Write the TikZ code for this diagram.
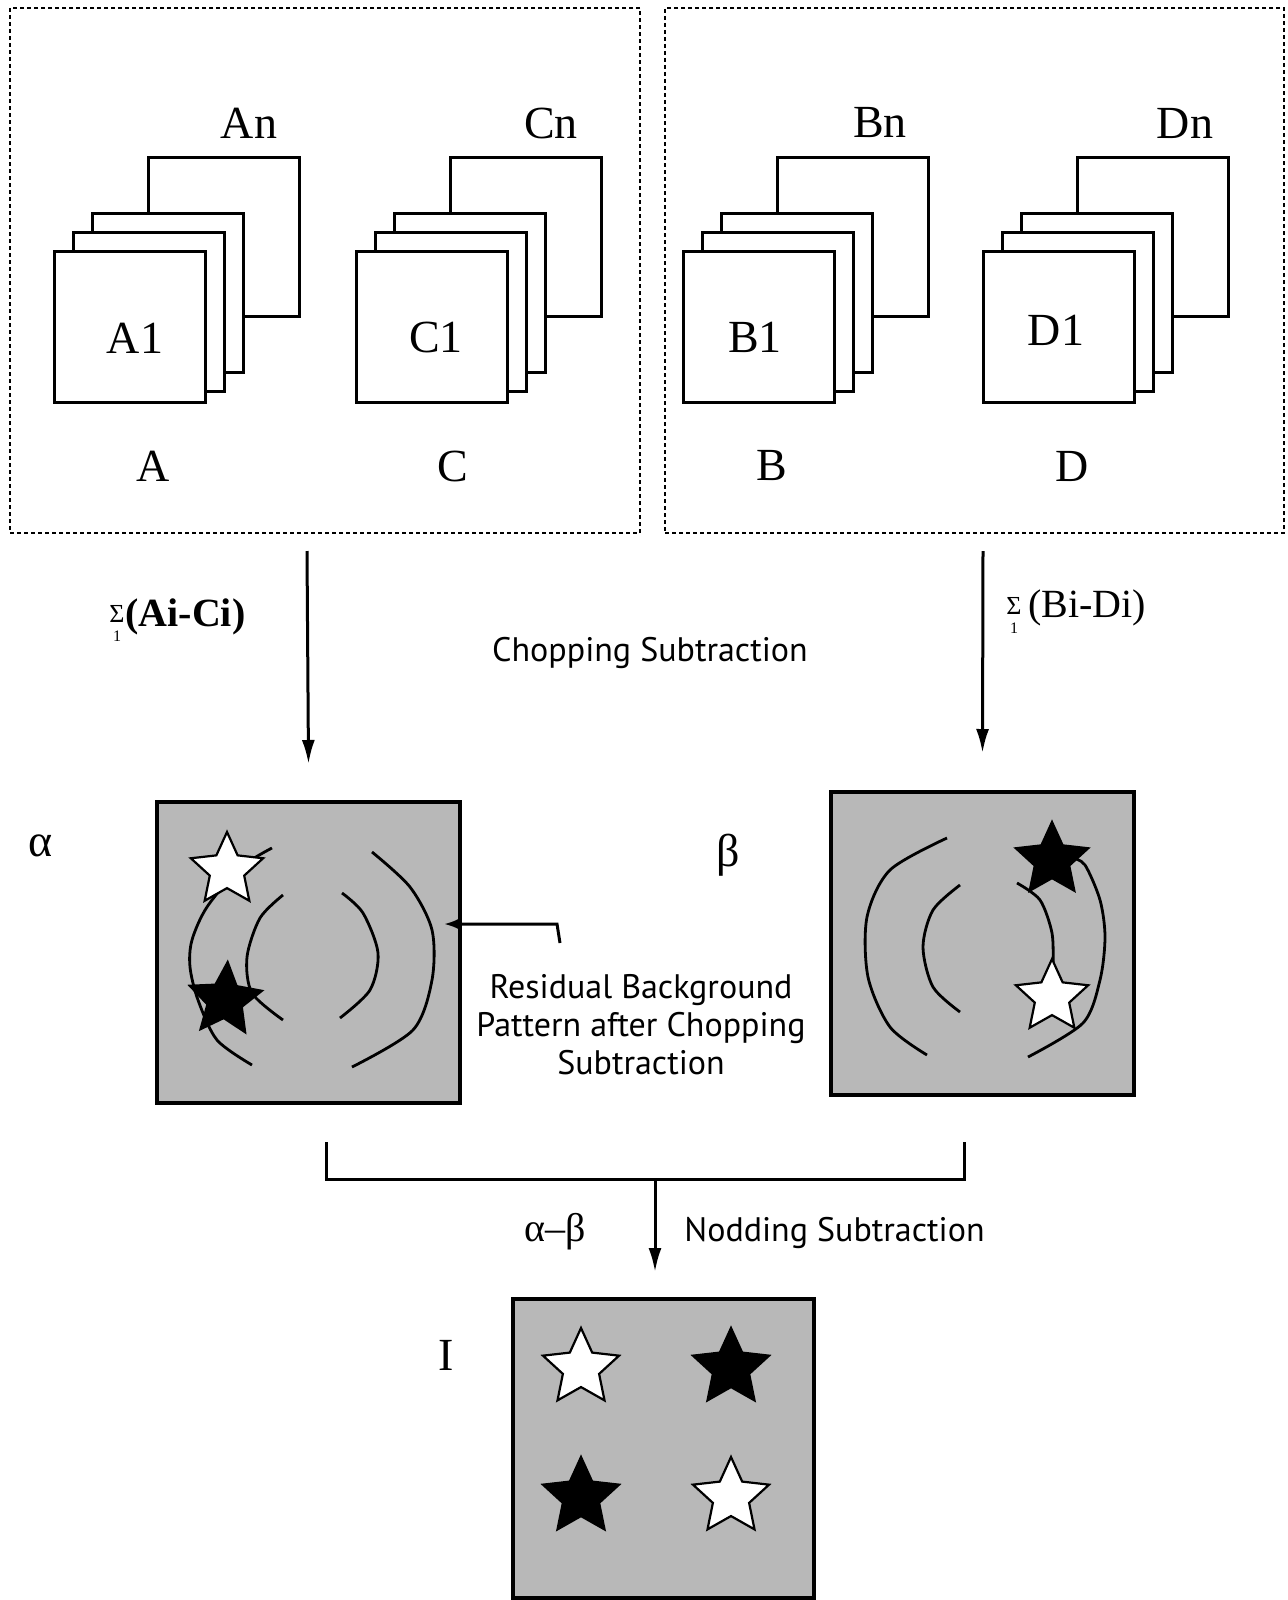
\documentclass[tikz,border=0pt]{standalone}
\usepackage{fontspec}
\setmainfont{Liberation Serif}
\newfontfamily\sansf{PT Sans}
\usetikzlibrary{shapes.geometric,arrows.meta}
\newcommand{\fstack}[2]{%
  \node[frm, minimum height=79.5pt] (#1n) at (223.5+#2,237) {};
  \node[frm, minimum height=79.5pt] (#13) at (167.5+#2,293) {};
  \node[frm, minimum height=79.5pt] (#12) at (148.5+#2,312) {};
  \node[frm, minimum height=75.5pt] (#11) at (129.5+#2,326.5) {};
}
\begin{document}
\begin{tikzpicture}[x=0.5pt,y=-0.5pt,
  frm/.style={draw, line width=1.5pt, fill=white, minimum width=75.5pt, inner sep=0pt},
  panel/.style={draw, line width=1pt, dash pattern=on 2pt off 1.5pt, inner sep=0pt},
  lbl/.style={font=\fontsize{23}{26}\selectfont, inner sep=0pt},
  sanslbl/.style={font=\sansf\fontsize{17}{19}\selectfont, inner sep=0pt},
  img/.style={draw, line width=2pt, fill=black!28, inner sep=0pt},
  bgarc/.style={line width=1.4pt},
  wstar/.style={star, star points=5, star point ratio=2.1, draw, line width=1.1pt, fill=white, minimum size=38pt, inner sep=0pt},
  bstar/.style={wstar, fill=black},
  arr/.style={line width=1.5pt, -{Latex[length=12pt,width=6.5pt]}},
  brk/.style={line width=1.5pt},
  sig/.style={font=\fontsize{13}{14}\selectfont, inner sep=0pt},
  sigsub/.style={font=\fontsize{8}{9}\selectfont, inner sep=0pt}
]
\useasboundingbox (0,0) rectangle (1287,1600);

% panels
\node[panel, minimum width=315pt, minimum height=262.5pt] (lpanel) at (325,270.5) {};
\node[panel, minimum width=309.5pt, minimum height=262.5pt] (rpanel) at (974.5,270.5) {};

% frame stacks
\fstack{A}{0}
\fstack{C}{302}
\fstack{B}{629}
\fstack{D}{929}

\node[lbl] (Anl) at (249,123) {An};
\node[lbl] (Cnl) at (551,123) {Cn};
\node[lbl] (Bnl) at (880,123) {Bn};
\node[lbl] (Dnl) at (1185,123) {Dn};
\node[lbl] (A1l) at (135,338) {A1};
\node[lbl] (C1l) at (436,337) {C1};
\node[lbl] (B1l) at (755,337) {B1};
\node[lbl] (D1l) at (1056,330) {D1};
\node[lbl] (Al) at (153,466) {A};
\node[lbl] (Cl) at (453,466) {C};
\node[lbl] (Bl) at (772,466) {B};
\node[lbl] (Dl) at (1072,466) {D};

% image boxes
\node[img, minimum width=151.5pt, minimum height=150.5pt] (alpha) at (308.5,952.5) {};
\node[img, minimum width=151.5pt, minimum height=151.5pt] (beta) at (982.5,943.5) {};
\node[img, minimum width=150.5pt, minimum height=149.5pt] (Ibox) at (663.5,1448.5) {};

% chopping arrows
\coordinate (la) at (307,551);
\coordinate (ra) at (983,551);
\draw[arr] (la) -- ([yshift=18pt]alpha.north);
\draw[arr] (ra) -- ([yshift=18.5pt]beta.north);

\node[sig] (sigA) at (117,614) {Σ};
\node[sigsub] (sigA1) at (117,636) {1};
\node[anchor=base west, inner sep=0pt, font=\fontsize{20}{22}\selectfont\bfseries] (sumAC) at (125,626) {(Ai-Ci)};
\node[sig] (sigB) at (1014,606) {Σ};
\node[sigsub] (sigB1) at (1014,628) {1};
\node[anchor=base west, inner sep=0pt, font=\fontsize{20}{22}\selectfont] (sumBD) at (1028,617) {(Bi-Di)};

\node[sanslbl] (chop) at (650,653) {Chopping Subtraction};

\node[lbl] (alab) at (41,846) {α};
\node[lbl] (blab) at (728,855) {β};

% alpha arcs
\draw[bgarc] plot[smooth] coordinates {(272,848) (240,868) (207,907) (192,940) (190,967) (198,1000) (217,1040) (252,1065)};
\draw[bgarc] plot[smooth] coordinates {(283,895) (260,918) (247,957) (252,993) (283,1020)};
\draw[bgarc] plot[smooth] coordinates {(342,893) (363,913) (378,953) (370,990) (340,1018)};
\draw[bgarc] plot[smooth] coordinates {(372,852) (410,887) (432,930) (432,980) (413,1030) (352,1067)};
\node[wstar] (as1) at (227,870) {};
\node[bstar, rotate=-4] (as2) at (225,1000) {};

% beta arcs
\draw[bgarc] plot[smooth] coordinates {(947,838) (890,870) (867,917) (868,977) (890,1027) (927,1055)};
\draw[bgarc] plot[smooth] coordinates {(960,885) (933,910) (923,947) (933,987) (960,1012)};
\draw[bgarc] plot[smooth] coordinates {(1072,858) (1085,865) (1100,900) (1105,937) (1100,980) (1083,1023) (1028,1057)};
\draw[bgarc] plot[smooth] coordinates {(1017,883) (1040,900) (1052,933) (1053,965)};
\node[bstar] (bs1) at (1052,860) {};
\node[wstar] (bs2) at (1052,997) {};

% pointer
\coordinate (p0) at (560,943);
\coordinate (p1) at (557,924);
\draw[line width=1.5pt, -{Latex[length=8pt,width=6pt]}] (p0) -- (p1) -- (alpha.east |- p1) -- ++(-18,0);

\node[sanslbl, align=center] (resid) at (641,1025) {Residual Background\\Pattern after Chopping\\Subtraction};

% nodding bracket
\coordinate (bl) at (326,1142);
\coordinate (blc) at (326,1179);
\coordinate (brc) at (964,1179);
\coordinate (br) at (964,1142);
\draw[brk] (bl) -- (blc) -- (brc) -- (br);
\coordinate (nd) at (655,1179);
\coordinate (ndt) at (655,1272);
\draw[arr] (nd) -- (ndt);

\node[font=\fontsize{20}{22}\selectfont, inner sep=0pt] (ab) at (555,1232) {α–β};
\node[sanslbl, anchor=west] (nod) at (684,1233) {Nodding Subtraction};

\node[lbl] (Il) at (446,1355) {I};
\node[wstar, minimum size=40pt] (is1) at (581,1368) {};
\node[bstar, minimum size=40pt] (is2) at (731,1368) {};
\node[bstar, minimum size=40pt] (is3) at (581,1497) {};
\node[wstar, minimum size=40pt] (is4) at (731,1497) {};

\end{tikzpicture}
\end{document}
